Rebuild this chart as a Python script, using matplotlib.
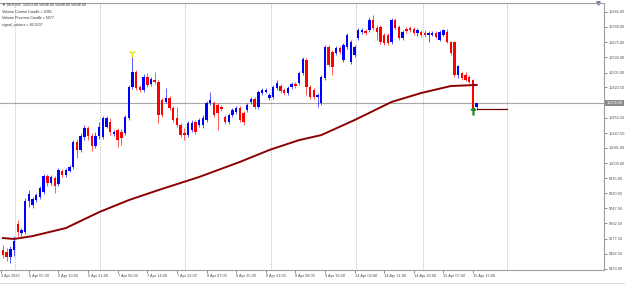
import numpy as np
import matplotlib
matplotlib.use("Agg")
import matplotlib.pyplot as plt
from matplotlib.transforms import blended_transform_factory
from matplotlib.lines import Line2D

plt.rcParams['font.family'] = ['Liberation Sans', 'DejaVu Sans']

# DE30 H1, 3 Apr 2020 - 15 Apr 2020
opens = [9514, 9503, 9475, 9514, 9659, 9609, 9615, 9788, 9765, 9793,
         9810, 9838, 9927, 9888, 9916, 9883, 9955, 9933, 9955, 9978,
         10117, 10073, 10145, 10195, 10151, 10095, 10151, 10145, 10201, 10229,
         10162, 10184, 10173, 10168, 10251, 10424, 10508, 10424, 10408, 10480,
         10441, 10464, 10452, 10352, 10341, 10363, 10307, 10251, 10212, 10168,
         10156, 10184, 10229, 10212, 10212, 10240, 10335, 10335, 10324, 10313,
         10257, 10229, 10268, 10285, 10307, 10279, 10296, 10341, 10357, 10313,
         10391, 10397, 10363, 10369, 10419, 10430, 10408, 10391, 10424, 10441,
         10447, 10503, 10575, 10424, 10408, 10369, 10335, 10475, 10648, 10620,
         10614, 10642, 10575, 10648, 10564, 10603, 10698, 10732, 10737, 10743,
         10799, 10754, 10760, 10715, 10715, 10676, 10799, 10760, 10698, 10748,
         10754, 10748, 10726, 10732, 10726, 10715, 10715, 10726, 10687, 10715,
         10732, 10676, 10676, 10491, 10503, 10491, 10480, 10464, 10313]
closes = [9486, 9475, 9520, 9564, 9615, 9626, 9788, 9827, 9799, 9821,
          9860, 9927, 9888, 9922, 9871, 9961, 9933, 9961, 9978, 10117,
          10073, 10151, 10195, 10151, 10095, 10151, 10201, 10251, 10251, 10173,
          10173, 10128, 10140, 10257, 10424, 10508, 10419, 10408, 10480, 10436,
          10469, 10452, 10268, 10268, 10363, 10307, 10240, 10212, 10156, 10156,
          10223, 10223, 10173, 10240, 10251, 10335, 10352, 10268, 10279, 10302,
          10229, 10268, 10296, 10307, 10240, 10229, 10324, 10357, 10313, 10397,
          10408, 10408, 10380, 10424, 10447, 10402, 10391, 10419, 10441, 10430,
          10503, 10581, 10424, 10369, 10369, 10380, 10480, 10648, 10547, 10536,
          10642, 10620, 10659, 10715, 10676, 10648, 10743, 10743, 10726, 10799,
          10754, 10732, 10676, 10670, 10670, 10799, 10754, 10698, 10732, 10737,
          10743, 10726, 10743, 10715, 10715, 10726, 10726, 10704, 10732, 10743,
          10676, 10614, 10491, 10542, 10475, 10464, 10452, 10300, 10336]
highs = [9542, 9525, 9536, 9592, 9682, 9637, 9804, 9849, 9810, 9832,
         9871, 9938, 9938, 9933, 9927, 9972, 9966, 9972, 9989, 10128,
         10134, 10168, 10212, 10207, 10168, 10173, 10229, 10262, 10262, 10251,
         10184, 10195, 10190, 10268, 10436, 10603, 10519, 10436, 10497, 10503,
         10480, 10508, 10464, 10363, 10419, 10374, 10318, 10313, 10223, 10195,
         10235, 10240, 10240, 10251, 10268, 10346, 10397, 10346, 10335, 10324,
         10268, 10279, 10307, 10318, 10318, 10290, 10335, 10369, 10369, 10408,
         10419, 10419, 10391, 10436, 10464, 10441, 10419, 10430, 10452, 10452,
         10514, 10592, 10586, 10436, 10419, 10391, 10491, 10659, 10659, 10631,
         10653, 10653, 10670, 10726, 10687, 10659, 10754, 10754, 10748, 10815,
         10827, 10771, 10771, 10726, 10726, 10810, 10810, 10771, 10743, 10760,
         10765, 10760, 10754, 10743, 10743, 10737, 10737, 10737, 10743, 10748,
         10748, 10681, 10681, 10547, 10508, 10508, 10491, 10469, 10336]
lows = [9469, 9453, 9441, 9480, 9592, 9592, 9603, 9754, 9749, 9782,
        9799, 9827, 9871, 9877, 9832, 9871, 9922, 9922, 9950, 9966,
        10028, 10061, 10128, 10128, 10067, 10084, 10134, 10134, 10195, 10156,
        10151, 10089, 10101, 10156, 10240, 10413, 10408, 10397, 10397, 10424,
        10430, 10441, 10223, 10257, 10335, 10296, 10229, 10201, 10145, 10128,
        10145, 10173, 10162, 10201, 10195, 10229, 10324, 10257, 10184, 10290,
        10218, 10218, 10257, 10274, 10229, 10212, 10285, 10330, 10302, 10302,
        10380, 10391, 10352, 10357, 10408, 10391, 10380, 10380, 10413, 10419,
        10436, 10491, 10380, 10357, 10357, 10313, 10324, 10464, 10536, 10491,
        10603, 10609, 10564, 10637, 10553, 10592, 10687, 10720, 10715, 10732,
        10743, 10687, 10665, 10659, 10659, 10665, 10743, 10687, 10687, 10726,
        10732, 10715, 10709, 10704, 10704, 10676, 10709, 10698, 10681, 10709,
        10670, 10603, 10480, 10475, 10464, 10458, 10447, 10280, 10298]

# moving average, read at a few bars
ma_bars = [0, 3, 8, 17, 26, 34, 42, 53, 64, 72, 80, 86, 95, 105, 113, 121, 128]
ma_vals = [9581, 9576, 9592, 9637, 9726, 9793, 9849, 9922, 10006, 10073,
           10128, 10156, 10240, 10341, 10391, 10430, 10436]

bid = 10336.00
signal_up_bar, signal_up_price = 127, 10290
signal_dn_bar, signal_dn_price = 35, 10614
level_price = 10300
level_bars = [128, 136.2]

yticks = [10845, 10760, 10675, 10590, 10505, 10422.5, 10252.5, 10167.5, 10085,
          10000, 9915, 9830, 9747.5, 9662.5, 9577.5, 9492.5, 9410]
xtick_bars = [-0.6, 7, 15, 23, 31, 39, 47, 55, 63, 71, 79, 87, 95, 103, 111, 119, 127]
xtick_labels = ['3 Apr 2020', '6 Apr 05:00', '6 Apr 13:00', '6 Apr 21:00', '7 Apr 06:00',
                '7 Apr 14:00', '7 Apr 22:00', '8 Apr 07:00', '8 Apr 15:00', '8 Apr 23:00',
                '9 Apr 08:00', '9 Apr 16:00', '14 Apr 03:00', '14 Apr 11:00',
                '14 Apr 22:00', '15 Apr 07:00', '15 Apr 15:00']
grid_bars = [3.2, 26.2, 49.2, 72.4, 95.4, 113.5, 136.2]

header = ['\u25bc DE30,H1  10313.00 10336.00 10298.00 10336.00',
          'Volume Current Candle = 5085',
          'Volume Previous Candle = 5577',
          'signal_volume = 86.5237']

fig = plt.figure(figsize=(6.25, 2.84), dpi=100)
ax = fig.add_axes([0, 14 / 284, 604 / 625, 267 / 284])
ax.set_xlim(-0.8, 162.4)
ax.set_ylim(9402.7, 10893.6)

for gb in grid_bars:
    ax.axvline(gb, color='#b8b8b8', lw=0.6, ls=(0, (1.5, 1.5)), zorder=0)
ax.axhline(bid, color='#a8a8a8', lw=0.8, zorder=1)

x = np.arange(len(opens))
o = np.array(opens)
c = np.array(closes)
cols = np.where(c >= o, '#0000ff', '#ff0000')
ax.vlines(x, lows, highs, colors=cols, lw=0.6, alpha=0.75, zorder=2)
ax.bar(x, np.maximum(np.abs(c - o), 4), bottom=np.minimum(o, c), width=0.65,
       color=cols, lw=0, zorder=3)

ax.plot(ma_bars, ma_vals, color='#8b0000', lw=1.4, zorder=4)
ax.plot(level_bars, [level_price, level_price], color='#6a0000', lw=0.9, zorder=4)
ax.plot(signal_dn_bar, signal_dn_price, marker='1', color='#f0e000', ms=6, mew=1.0, zorder=5)
ax.plot(signal_up_bar, signal_up_price, marker=r'$\uparrow$', color='#1a8a1a', ms=5, zorder=5)

ax.yaxis.tick_right()
ax.set_yticks(yticks)
ax.set_yticklabels([f'{v:.2f}' for v in yticks])
ax.set_xticks(xtick_bars)
ax.set_xticklabels(xtick_labels)
for lab in ax.get_xticklabels():
    lab.set_ha('left')
ax.tick_params(axis='y', labelsize=2.8, length=2, width=0.5, pad=1.2,
               colors='#606060', labelcolor='#505050')
ax.tick_params(axis='x', labelsize=2.8, length=2, width=0.5, pad=1.2,
               colors='#606060', labelcolor='#505050')
for side in ['top', 'right', 'bottom']:
    ax.spines[side].set_color('#a0a0a0')
    ax.spines[side].set_linewidth(0.8)
ax.spines['left'].set_visible(False)

tr = blended_transform_factory(ax.transAxes, ax.transData)
ax.text(1.004, bid, f'{bid:.2f}', transform=tr, ha='left', va='center',
        fontsize=2.8, color='white',
        bbox=dict(fc='#8a8a8a', ec='none', boxstyle='square,pad=0.25'))

ax.plot([0.99], [1.0], marker='v', color='#7080a0', ms=2.5, transform=ax.transAxes, clip_on=False)

for k, line in enumerate(header):
    fig.text(2 / 625, 1 - (5 + 6.7 * k) / 284, line, fontsize=2.6, color='#303030',
             ha='left', va='center')

fig.add_artist(Line2D([0, 1], [0.5 / 284, 0.5 / 284], color='#404040', lw=1.0))

fig.savefig('out.png', dpi=100)
